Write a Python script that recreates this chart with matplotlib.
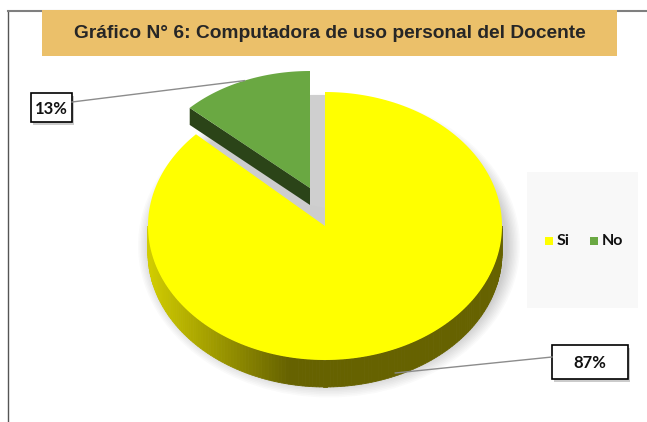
import matplotlib.pyplot as plt
from matplotlib.patches import Polygon, Rectangle, Ellipse
import numpy as np

# data
labels = ['Si', 'No']
values = [87, 13]
colors = ['#FFFF00', '#6AA842']
title = 'Gráfico N° 6: Computadora de uso personal del Docente'


def rim(cx, cy, rx, ry, theta):
    # theta in degrees, clockwise from 12 o'clock
    t = np.radians(theta)
    return cx + rx * np.sin(t), cy - ry * np.cos(t)


def main():
    fig = plt.figure(figsize=(6.47, 4.22), dpi=100)
    ax = fig.add_axes([0, 0, 1, 1])
    ax.set_xlim(0, 647)
    ax.set_ylim(422, 0)
    ax.axis('off')

    # frame lines
    ax.plot([8, 8], [11, 422], color='#555555', lw=1.0)
    ax.plot([8, 647], [11, 11], color='#7f7f7f', lw=1.5)

    # title box
    ax.add_patch(Rectangle((42, 10), 575, 46, facecolor='#EBC06A', edgecolor='none', zorder=3))
    ax.text(330, 33, title, ha='center', va='center', fontsize=13.8, fontweight='bold',
            color='#262626', family='Liberation Sans', zorder=4)

    # legend box
    ax.add_patch(Rectangle((527, 172), 111, 136, facecolor='#F8F8F8', edgecolor='none'))
    lx = [545, 590]
    for i in range(len(labels)):
        ax.add_patch(Rectangle((lx[i], 237), 8, 8, facecolor=colors[i], edgecolor='none'))
        ax.text(lx[i] + 12, 241, labels[i], ha='left', va='center', fontsize=11.5,
                fontweight='bold', family='Lato', color='#111111')

    total = sum(values)
    ang = np.cumsum([0] + values) / total * 360.0   # yellow 0..313, green 313..360

    # main slice geometry
    cx, cy, rx, ry, depth = 325, 226, 177, 134, 27
    # exploded slice geometry
    gx, gy, grx, gry, gdepth = 310, 188, 165, 117, 17

    # soft shadow
    for k in range(10):
        ax.add_patch(Ellipse((cx + 4, cy + depth / 2 + 6), 2 * (rx + 14 - 1.4 * k),
                             2 * (ry + 18 - 1.6 * k), facecolor='#000000', alpha=0.018,
                             edgecolor='none'))
    # shadow strip between slices
    ax.add_patch(Polygon([(310, 95), (325, 95), (325, 208), (310, 205)], closed=True,
                         facecolor='#CFCFCF', edgecolor='none'))

    # side wall of main slice (front half only)
    a0, a1 = max(ang[0], 90), min(ang[1], 270)
    th = np.linspace(a0, a1, 160)
    for j in range(len(th) - 1):
        xa, ya = rim(cx, cy, rx, ry, th[j])
        xb, yb = rim(cx, cy, rx, ry, th[j + 1])
        t = np.clip((max(xa, xb) - 150) / 140.0, 0, 1)
        c1 = np.array([0.82, 0.80, 0.0])
        c2 = np.array([0.40, 0.385, 0.0])
        col = c1 * (1 - t) + c2 * t
        ax.add_patch(Polygon([(xa, ya), (xb, yb), (xb, yb + depth), (xa, ya + depth)],
                             closed=True, facecolor=col, edgecolor=col, lw=0.6))

    # top face of main slice
    th = np.linspace(ang[0], ang[1], 300)
    px, py = rim(cx, cy, rx, ry, th)
    ax.add_patch(Polygon(np.column_stack([np.r_[cx, px], np.r_[cy, py]]), closed=True,
                         facecolor=colors[0], edgecolor='none'))

    # cut face of exploded slice
    ex, ey = rim(gx, gy, grx, gry, ang[1])
    ax.add_patch(Polygon([(gx, gy), (ex, ey), (ex, ey + gdepth), (gx, gy + gdepth)],
                         closed=True, facecolor='#2B4418', edgecolor='none'))
    # top face of exploded slice
    th = np.linspace(ang[1], ang[2], 100)
    px, py = rim(gx, gy, grx, gry, th)
    ax.add_patch(Polygon(np.column_stack([np.r_[gx, px], np.r_[gy, py]]), closed=True,
                         facecolor=colors[1], edgecolor='none'))

    # data labels
    mid0 = (ang[0] + ang[1]) / 2
    mid1 = (ang[1] + ang[2]) / 2
    x0, y0 = rim(cx, cy, rx, ry, mid0)
    x1, y1 = rim(gx, gy, grx, gry, mid1)
    boxes = [(552, 345, 76, 34, x0, y0 + depth - 3, 552, 357),
             (31, 93, 41, 29, x1, y1, 72, 102)]
    for i, (bx, by, bw, bh, tx, ty, sx, sy) in enumerate(boxes):
        ax.plot([sx, tx], [sy, ty], color='#8c8c8c', lw=1.0)
        ax.add_patch(Rectangle((bx + 2, by + 3), bw, bh, facecolor='#999999', alpha=0.5,
                               edgecolor='none'))
        ax.add_patch(Rectangle((bx, by), bw, bh, facecolor='white', edgecolor='black', lw=1.2))
        ax.text(bx + bw / 2, by + bh / 2 + 1, '%d%%' % values[i], ha='center', va='center',
                fontsize=12, fontweight='bold', family='Lato', color='#111111')

    fig.savefig('out.png', dpi=100)


if __name__ == "__main__":
    main()
